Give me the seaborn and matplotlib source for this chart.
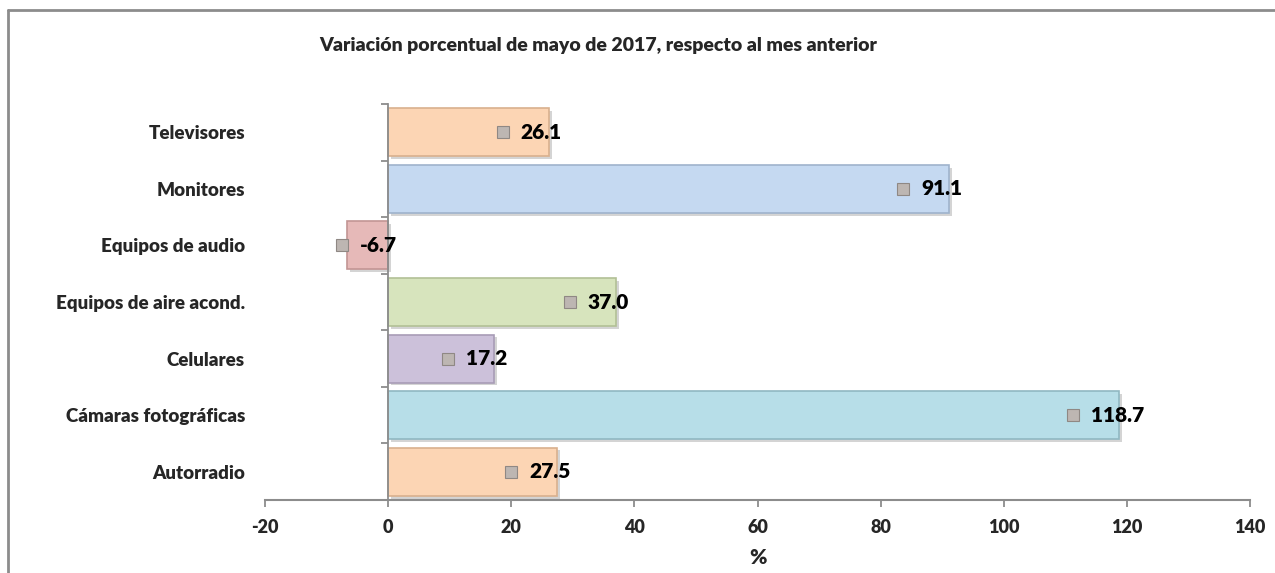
import matplotlib
matplotlib.use("Agg")
import matplotlib.pyplot as plt
import matplotlib.patheffects as pe
import matplotlib.transforms as mtrans
import seaborn as sns
import pandas as pd
import numpy as np
from matplotlib.lines import Line2D

categories = ["Televisores", "Monitores", "Equipos de audio", "Equipos de aire acond.",
              "Celulares", "Cámaras fotográficas", "Autorradio"]
values = [26.1, 91.1, -6.7, 37.0, 17.2, 118.7, 27.5]
colors = ["#fcd5b4", "#c5d9f1", "#e6b9b8", "#d7e4bd", "#ccc1da", "#b7dee8", "#fcd5b4"]
edge_colors = ["#d9b08e", "#9fb3cc", "#c29594", "#b2c096", "#a89cb6", "#90b8c2", "#d9b08e"]
xticks = [-20, 0, 20, 40, 60, 80, 100, 120, 140]
title = "Variación porcentual de mayo de 2017, respecto al mes anterior"

sns.set_style("white")
plt.rcParams["font.family"] = ["Lato", "DejaVu Sans"]
W = "heavy"

df = pd.DataFrame({"cat": categories, "val": values})

fig = plt.figure(figsize=(12.75, 5.73), dpi=100)
ax = fig.add_axes([265 / 1275, 1 - 500 / 573, (1250 - 265) / 1275, (500 - 104) / 573])

sns.barplot(data=df, x="val", y="cat", hue="cat", palette=colors, legend=False,
            orient="h", width=0.85, ax=ax, saturation=1)
for patch, ec in zip(ax.patches, edge_colors):
    patch.set_edgecolor(ec)
    patch.set_linewidth(1.2)
    patch.set_path_effects([pe.SimplePatchShadow(offset=(2, -2), alpha=0.25, shadow_rgbFace="#555555"),
                            pe.Normal()])

ax.set_xlim(-20, 140)
ax.set_ylim(len(categories) - 0.5, -0.5)
ax.set_xticks(xticks)
ax.set_xticklabels([str(t) for t in xticks], fontsize=13, fontweight=W)

# y axis at x=0, labels far left
ax.spines["left"].set_position(("data", 0))
ax.spines["left"].set_color("#8c8c8c")
ax.spines["left"].set_linewidth(1.3)
ax.spines["bottom"].set_color("#8c8c8c")
ax.spines["bottom"].set_linewidth(1.5)
ax.spines["top"].set_visible(False)
ax.spines["right"].set_visible(False)

ax.set_yticks(range(len(categories)))
ax.set_yticklabels(categories, fontsize=13.5, fontweight=W)
ax.tick_params(axis="y", which="major", left=True, length=0, pad=103)
ax.set_yticks(np.arange(-0.5, len(categories), 1.0), minor=True)
ax.tick_params(axis="y", which="minor", left=True, length=5, width=1.3, color="#8c8c8c", direction="out")
ax.tick_params(axis="x", which="major", bottom=True, length=5, width=1.3, color="#8c8c8c",
               direction="out", pad=9)

ax.set_xlabel("%", fontsize=15, fontweight=W, labelpad=8)
ax.set_ylabel("")

# value labels with small legend-key squares
for i, v in enumerate(values):
    if v >= 0:
        tx_off = -28
    else:
        tx_off = 13
    mk_off = tx_off - 18
    ax.plot([v], [i], marker="s", markersize=8, color="#bdb6b2", markeredgecolor="#8f8884",
            markeredgewidth=0.8, linestyle="none",
            transform=ax.transData + mtrans.ScaledTranslation(mk_off / 100, 0, fig.dpi_scale_trans))
    ax.annotate(f"{v:.1f}", xy=(v, i), xycoords="data", xytext=(tx_off, 0),
                textcoords="offset pixels", ha="left", va="center",
                fontsize=15, fontweight=W, color="black")

fig.text(598 / 1275, 1 - 45 / 573, title, ha="center", va="center", fontsize=14, fontweight=W)

# outer frame (top and left)
fig.add_artist(Line2D([8 / 1275, 1.0], [1 - 10 / 573, 1 - 10 / 573], transform=fig.transFigure,
                      color="#8c8c8c", linewidth=2))
fig.add_artist(Line2D([8 / 1275, 8 / 1275], [0, 1 - 10 / 573], transform=fig.transFigure,
                      color="#8c8c8c", linewidth=2))

fig.savefig("out.png", dpi=100, facecolor="white")
